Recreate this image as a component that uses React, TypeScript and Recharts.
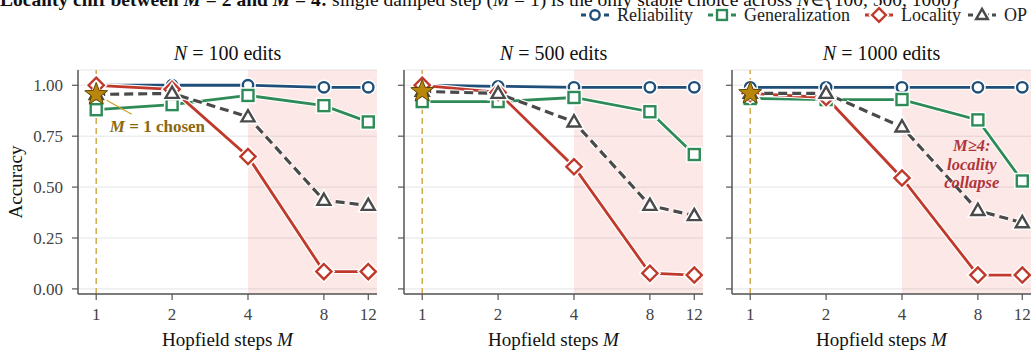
import React from 'react';
import {
  LineChart,
  Line,
  XAxis,
  YAxis,
  CartesianGrid,
  ReferenceArea,
  ReferenceLine,
  ReferenceDot,
} from 'recharts';

// Hopfield steps M
const STEPS = [1, 2, 4, 8, 12];
const Y_TICKS = [0, 0.25, 0.5, 0.75, 1];

// N = 100 edits
const rel100 = [1.0, 1.0, 1.0, 0.99, 0.99];
const gen100 = [0.88, 0.905, 0.95, 0.9, 0.82];
const loc100 = [1.0, 0.98, 0.65, 0.085, 0.085];
const op100 = [0.955, 0.96, 0.845, 0.435, 0.41];

// N = 500 edits
const rel500 = [1.0, 0.995, 0.99, 0.99, 0.99];
const gen500 = [0.92, 0.92, 0.94, 0.87, 0.66];
const loc500 = [1.0, 0.965, 0.6, 0.077, 0.068];
const op500 = [0.97, 0.96, 0.82, 0.41, 0.36];

// N = 1000 edits
const rel1000 = [0.99, 0.99, 0.99, 0.99, 0.99];
const gen1000 = [0.935, 0.93, 0.93, 0.83, 0.53];
const loc1000 = [0.96, 0.94, 0.545, 0.068, 0.068];
const op1000 = [0.96, 0.96, 0.795, 0.385, 0.325];

const FONT = "'Liberation Serif', 'DejaVu Serif', serif";
const X_DOMAIN: [number, number] = [-0.24, 3.7];
const Y_DOMAIN: [number, number] = [-0.025, 1.075];

const SERIES = [
  { key: 'rel', name: 'Reliability', color: '#1f4e79', kind: 'circle' },
  { key: 'gen', name: 'Generalization', color: '#2e8b57', kind: 'square' },
  { key: 'loc', name: 'Locality', color: '#c0392b', kind: 'diamond' },
  { key: 'op', name: 'OP', color: '#4a4a4a', kind: 'triangle' },
];

const Marker = ({ cx, cy, kind, color, s = 1 }: any) => {
  if (cx == null || cy == null) return null;
  const sw = 2.4;
  const draw = (stroke: string, w: number) => {
    if (kind === 'circle') return <circle cx={cx} cy={cy} r={5.2 * s} fill="#fff" stroke={stroke} strokeWidth={w} />;
    if (kind === 'square')
      return <rect x={cx - 5.5 * s} y={cy - 5.5 * s} width={11 * s} height={11 * s} fill="#fff" stroke={stroke} strokeWidth={w} />;
    if (kind === 'diamond') {
      const d = 7.6 * s;
      return <polygon points={`${cx},${cy - d} ${cx + d},${cy} ${cx},${cy + d} ${cx - d},${cy}`} fill="#fff" stroke={stroke} strokeWidth={w} />;
    }
    return (
      <polygon
        points={`${cx},${cy - 6.8 * s} ${cx + 6.5 * s},${cy + 4.5 * s} ${cx - 6.5 * s},${cy + 4.5 * s}`}
        fill="#fff"
        stroke={stroke}
        strokeWidth={w}
        strokeLinejoin="miter"
      />
    );
  };
  return (
    <g>
      {draw('#fff', sw + 3)}
      {draw(color, sw)}
    </g>
  );
};

const starPoints = (cx: number, cy: number, ro: number, ri: number) => {
  const pts: string[] = [];
  for (let i = 0; i < 10; i++) {
    const r = i % 2 === 0 ? ro : ri;
    const a = -Math.PI / 2 + (i * Math.PI) / 5;
    pts.push(`${cx + r * Math.cos(a)},${cy + r * Math.sin(a)}`);
  }
  return pts.join(' ');
};

const Star = (p: any) => (
  <polygon points={starPoints(p.cx, p.cy, 12, 5)} fill="#b8860b" stroke="#5e4500" strokeWidth={1} />
);

const ChosenLabel = (p: any) => {
  const vb = p.viewBox || {};
  return (
    <text x={vb.x} y={vb.y} fontFamily={FONT} fontSize={17} fontWeight="bold" fill="#8a6a10" textAnchor="start">
      <tspan fontStyle="italic">M</tspan>
      <tspan> = 1 chosen</tspan>
    </text>
  );
};

const CollapseLabel = (p: any) => {
  const vb = p.viewBox || {};
  const x = vb.x;
  return (
    <text x={x} y={vb.y} fontFamily={FONT} fontSize={16.5} fontWeight="bold" fontStyle="italic" fill="#b0343a" textAnchor="middle">
      <tspan x={x} dy={-18.5}>M≥4:</tspan>
      <tspan x={x} dy={18.5}>locality</tspan>
      <tspan x={x} dy={18.5}>collapse</tspan>
    </text>
  );
};

interface PanelProps {
  left: number;
  rel: number[];
  gen: number[];
  loc: number[];
  op: number[];
  showYLabels?: boolean;
  showChosen?: boolean;
  showCollapse?: boolean;
}

const Panel: React.FC<PanelProps> = ({ left, rel, gen, loc, op, showYLabels, showChosen, showCollapse }) => {
  const data = STEPS.map((m, i) => ({ x: Math.log2(m), rel: rel[i], gen: gen[i], loc: loc[i], op: op[i] }));
  return (
    <div style={{ position: 'absolute', left: left - 60, top: 0 }}>
      <LineChart width={364} height={351} data={data} margin={{ top: 70, right: 5, bottom: 0, left: 0 }}>
        <CartesianGrid vertical={false} stroke="#e3e5e8" strokeWidth={1} />
        <ReferenceArea x1={2} x2={X_DOMAIN[1]} fill="#e74c3c" fillOpacity={0.12} stroke="none" ifOverflow="hidden" />
        <ReferenceLine x={0} stroke="#d4aa4c" strokeWidth={1.5} strokeDasharray="6 4" />
        <XAxis
          type="number"
          dataKey="x"
          domain={X_DOMAIN}
          allowDataOverflow
          ticks={STEPS.map((m) => Math.log2(m))}
          tickFormatter={(v: number) => String(Math.round(Math.pow(2, v)))}
          height={57}
          tickSize={6}
          tickMargin={8}
          stroke="#555"
          axisLine={{ stroke: '#555', strokeWidth: 1.5 }}
          tickLine={{ stroke: '#555', strokeWidth: 1.2 }}
          tick={{ fontSize: 17, fill: '#444', fontFamily: FONT }}
        />
        <YAxis
          type="number"
          domain={Y_DOMAIN}
          allowDataOverflow
          ticks={Y_TICKS}
          tickFormatter={(v: number) => (showYLabels ? v.toFixed(2) : '')}
          width={60}
          tickSize={6}
          tickMargin={9}
          axisLine={{ stroke: '#555', strokeWidth: 1.5 }}
          tickLine={{ stroke: '#555', strokeWidth: 1.2 }}
          tick={{ fontSize: 17, fill: '#444', fontFamily: FONT }}
        />
        {SERIES.map((s) => [
          <Line
            key={s.key + '-halo'}
            type="linear"
            dataKey={s.key}
            stroke="#fff"
            strokeWidth={s.key === 'op' ? 5.5 : 5}
            strokeDasharray={s.key === 'op' ? '9 5' : undefined}
            dot={false}
            activeDot={false}
            isAnimationActive={false}
          />,
          <Line
            key={s.key}
            type="linear"
            dataKey={s.key}
            stroke={s.color}
            strokeWidth={s.key === 'op' ? 3.2 : 2.8}
            strokeDasharray={s.key === 'op' ? '9 5' : undefined}
            dot={(p: any) => <Marker key={`${s.key}-${p.index}`} cx={p.cx} cy={p.cy} kind={s.kind} color={s.color} />}
            activeDot={false}
            isAnimationActive={false}
          />,
        ])}
        {showChosen && (
          <ReferenceLine
            segment={[
              { x: 0, y: op[0] },
              { x: 0.468, y: 0.858 },
            ]}
            stroke="#c9a227"
            strokeWidth={1.2}
          />
        )}
        <ReferenceDot x={0} y={op[0]} r={0} shape={Star} />
        {showChosen && <ReferenceDot x={0.18} y={0.772} r={0} fill="none" stroke="none" label={<ChosenLabel />} />}
        {showCollapse && <ReferenceDot x={2.92} y={0.584} r={0} fill="none" stroke="none" label={<CollapseLabel />} />}
      </LineChart>
    </div>
  );
};

const PLOT_LEFTS = [78, 404, 732];
const PLOT_W = 299;
const PANEL_N = ['100', '500', '1000'];

const LEGEND_X = [581, 708, 865, 968];

const Overlay = () => (
  <svg width={1036} height={351} style={{ position: 'absolute', left: 0, top: 0, pointerEvents: 'none' }}>
    <text x={0} y={6} fontFamily={FONT} fontSize={19.5} fill="#111">
      <tspan fontWeight="bold">
        Locality cliff between <tspan fontStyle="italic">M</tspan> = 2 and <tspan fontStyle="italic">M</tspan> = 4:
      </tspan>
      <tspan> single damped step (</tspan>
      <tspan fontStyle="italic">M</tspan>
      <tspan> = 1) is the only stable choice across </tspan>
      <tspan fontStyle="italic">N</tspan>
      <tspan>∈{'{'}100, 500, 1000{'}'}</tspan>
    </text>
    {SERIES.map((s, i) => (
      <g key={s.key}>
        <line
          x1={LEGEND_X[i]}
          x2={LEGEND_X[i] + 28}
          y1={15}
          y2={15}
          stroke={s.color}
          strokeWidth={s.key === 'op' ? 3 : 2.8}
          strokeDasharray={s.key === 'op' ? '5 3' : '5 18 5'}
        />
        <Marker cx={LEGEND_X[i] + 14} cy={15} kind={s.kind} color={s.color} s={0.9} />
        <text x={LEGEND_X[i] + 36} y={21} fontFamily={FONT} fontSize={18} fill="#222">
          {s.name}
        </text>
      </g>
    ))}
    {PLOT_LEFTS.map((l, i) => (
      <g key={i}>
        <text x={l + PLOT_W / 2} y={60} textAnchor="middle" fontFamily={FONT} fontSize={20} fill="#111">
          <tspan fontStyle="italic">N</tspan>
          <tspan> = {PANEL_N[i]} edits</tspan>
        </text>
        <text x={l + PLOT_W / 2} y={346} textAnchor="middle" fontFamily={FONT} fontSize={19} fill="#111">
          Hopfield steps <tspan fontStyle="italic">M</tspan>
        </text>
      </g>
    ))}
    <text x={22} y={182} textAnchor="middle" fontFamily={FONT} fontSize={19} fill="#111" transform="rotate(-90 22 182)">
      Accuracy
    </text>
  </svg>
);

export default function App() {
  return (
    <div style={{ position: 'absolute', left: 0, top: 0, width: 1036, height: 351, background: '#fff', overflow: 'hidden' }}>
      <Panel left={PLOT_LEFTS[0]} rel={rel100} gen={gen100} loc={loc100} op={op100} showYLabels showChosen />
      <Panel left={PLOT_LEFTS[1]} rel={rel500} gen={gen500} loc={loc500} op={op500} />
      <Panel left={PLOT_LEFTS[2]} rel={rel1000} gen={gen1000} loc={loc1000} op={op1000} showCollapse />
      <Overlay />
    </div>
  );
}
